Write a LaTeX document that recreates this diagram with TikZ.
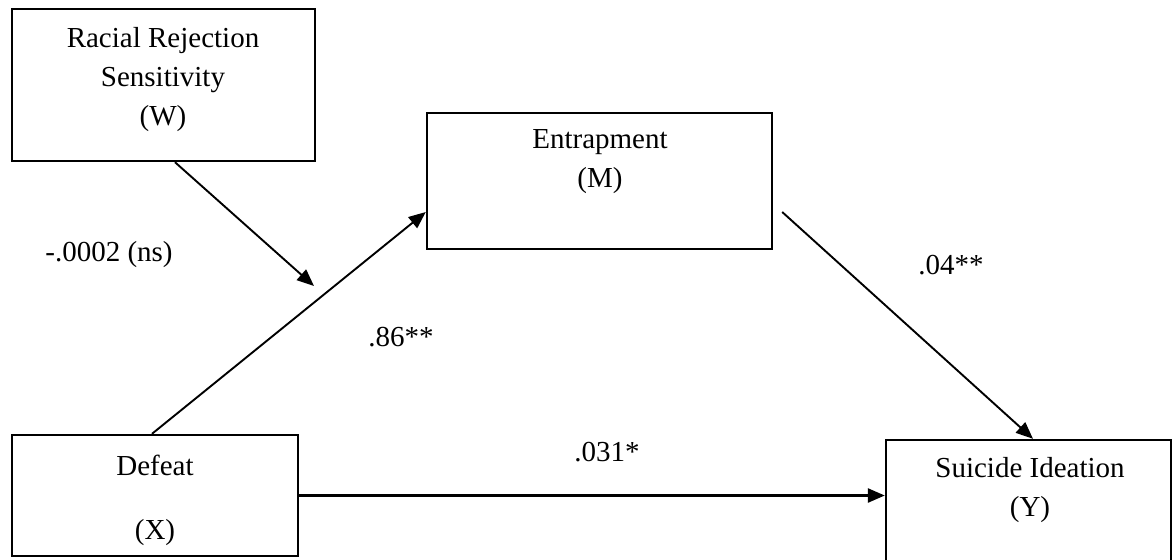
\documentclass[tikz,border=0pt]{standalone}
\usepackage{fontspec}
\setmainfont{Liberation Serif}
\usetikzlibrary{arrows.meta,positioning}

\begin{document}
\begin{tikzpicture}[x=0.5pt,y=-0.5pt,->,>={Triangle[length=8.5pt,width=7pt]},
			line width=0.95pt,
			var node/.style={rectangle,draw,line width=1.2pt,inner sep=0pt},
			var text/.style={align=center,inner sep=0pt,font=\fontsize{14.5}{19.5}\selectfont},
			coef/.style={inner sep=0pt,font=\fontsize{14.5}{19.5}\selectfont}]
			\useasboundingbox (0,0) rectangle (1174,559);
			% boxes
			\node[var node, minimum width=151.5pt, minimum height=76pt] (W) at (163.5,85) {};
			\node[var node, minimum width=172.5pt, minimum height=68pt] (M) at (599.5,181) {};
			\node[var node, minimum width=143pt, minimum height=60.5pt] (X) at (155,495.5) {};
			\node[var node, minimum width=142.5pt, minimum height=65pt] (Y) at (1028.5,505) {};
			% box texts
			\node[var text] (Wt) at (163,80) {Racial Rejection\\Sensitivity\\(W)};
			\node[var text] (Mt) at (600,162) {Entrapment\\(M)};
			\node[var text] (Xt1) at (155,465) {Defeat};
			\node[var text] (Xt2) at (155,533) {(X)};
			\node[var text] (Yt) at (1030,490) {Suicide Ideation\\(Y)};
			% paths
			\coordinate (WX) at (314,286);
			\coordinate (Mout) at ([xshift=4.5pt,yshift=-15.5pt]M.east);
			\draw ([xshift=5.75pt]W.south) -- (WX);
			\draw ([xshift=-1.5pt]X.north) -- ([yshift=-15.5pt]M.west);
			\draw (Mout) -- ([xshift=2.25pt]Y.north);
			\draw[line width=1.3pt] (X.east) -- (X.east -| Y.west);
			% coefficients
			\node[coef] (a) at (109,255) {-.0002 (ns)};
			\node[coef] (b) at (401,337) {.86**};
			\node[coef] (c) at (951,265) {.04**};
			\node[coef] (d) at (607,452) {.031*};
		\end{tikzpicture}
\end{document}
